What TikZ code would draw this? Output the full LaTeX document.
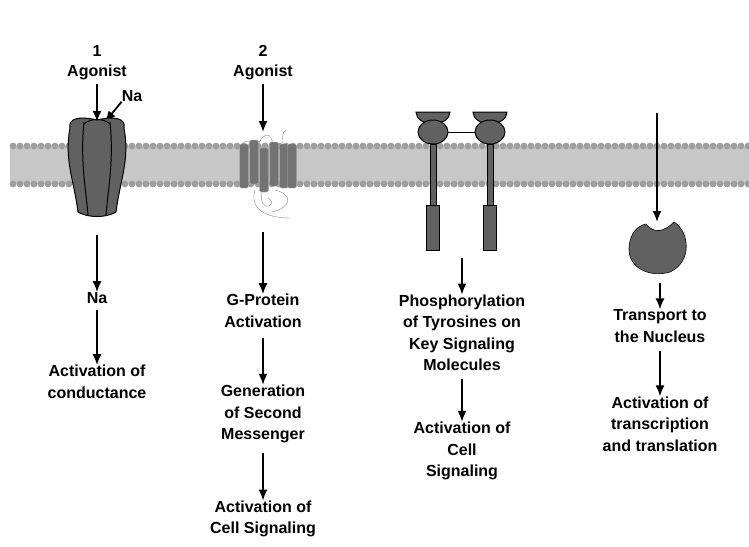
\documentclass[tikz,border=0pt]{standalone}
\usepackage{fontspec}
\setmainfont{Liberation Sans}
\begin{document}
\begin{tikzpicture}[x=1pt,y=-1pt,
  lbl/.style={font=\fontsize{16}{21.5}\selectfont\bfseries,align=center,inner sep=0pt},
  arr/.style={line width=1.8pt,-{Latex[length=11pt,width=9pt]}},
  prot/.style={fill=black!62,draw=black,line width=1pt}]
\usetikzlibrary{arrows.meta}
\useasboundingbox (0,0) rectangle (749,546);
% membrane
\fill[black!22] (10,146) rectangle (749,184);
\foreach \i in {0,...,105}{
  \fill[black!38] (13+7*\i,146) circle (3.4);
  \fill[black!38] (13+7*\i,184) circle (3.4);}
% column 1
\node[lbl] (n1) at (97,51) {1};
\node[lbl] (ag1) at (97,72) {Agonist};
\coordinate (c1top) at (97,122);
\draw[arr] (ag1.south)++(0,4) -- (c1top);
\node[lbl] (na1) at (132,96) {Na};
\coordinate (naend) at (105,122);
\draw[arr] (na1.south west) -- (naend);
\path[prot] (70,128) .. controls (68,118) and (80,116) .. (97,120)
  .. controls (114,116) and (126,118) .. (124,128)
  .. controls (130,160) and (120,180) .. (116,212)
  .. controls (106,218) and (88,218) .. (78,212)
  .. controls (74,180) and (64,160) .. (70,128) -- cycle;
\draw[line width=1pt] (84,122) .. controls (80,160) and (86,190) .. (88,215);
\draw[line width=1pt] (110,122) .. controls (114,160) and (108,190) .. (106,215);
\draw[line width=1pt] (84,124) .. controls (90,118) and (104,118) .. (110,124);
\node[lbl] (na2) at (97,298) {Na};
\coordinate (c1b) at (97,235);
\draw[arr] (c1b) -- (na2.north);
\node[lbl] (act1) at (97,382) {Activation of\\conductance};
\draw[arr] (na2.south)++(0,6) -- (act1.north);
% column 2
\node[lbl] (n2) at (263,51) {2};
\node[lbl] (ag2) at (263,72) {Agonist};
\coordinate (g2top) at (263,132);
\draw[arr] (ag2.south)++(0,4) -- (g2top);
\draw[black!45,thin] (245,160) .. controls (235,140) and (250,135) .. (255,150)
  (258,145) .. controls (265,128) and (275,135) .. (272,150)
  (282,150) .. controls (282,140) and (282,132) .. (286,130);
\foreach \x/\y in {244/144,254/140,264/148,274/142,284/144,292/144}
  \draw[fill=black!55,draw=black!30,rounded corners=2pt] (\x-4.5,\y) rectangle (\x+4.5,\y+44);
\draw[black!45,thin] (262,192) .. controls (258,215) and (280,205) .. (268,198)
  (255,190) .. controls (250,205) and (260,218) .. (290,218)
  (275,190) .. controls (295,195) and (290,208) .. (272,212);
\node[lbl] (gp) at (263,311) {G-Protein\\Activation};
\coordinate (c2b) at (263,232);
\draw[arr] (c2b) -- (gp.north);
\node[lbl] (gen) at (263,414) {Generation\\of Second\\Messenger};
\draw[arr] (gp.south)++(0,10) -- (gen.north);
\node[lbl] (act2) at (263,519) {Activation of\\Cell Signaling};
\draw[arr] (gen.south)++(0,10) -- (act2.north);
% column 3
\foreach \x in {433,490}{
  \path[prot] (\x-17,112) arc (180:0:17 and 12) -- cycle;
  \draw[prot] (\x,132) ellipse (15 and 12);
  \draw[prot] (\x-3,144) rectangle (\x+3,205);
  \draw[prot] (\x-6.5,205) rectangle (\x+6.5,250);
}
\draw[line width=1pt] (448,132) -- (475,132);
\node[lbl] (ph) at (462,333) {Phosphorylation\\of Tyrosines on\\Key Signaling\\Molecules};
\coordinate (c3b) at (462,258);
\draw[arr] (c3b) -- (ph.north);
\node[lbl] (act3) at (462,451) {Activation of\\Cell\\Signaling};
\draw[arr] (ph.south)++(0,8) -- (act3.north);
% column 4
\coordinate (c4t) at (657,113);
\coordinate (c4p) at (657,222);
\draw[arr] (c4t) -- (c4p);
\path[prot,line width=0.6pt] (646,224) .. controls (654,234) and (664,232) .. (674,222)
  .. controls (690,232) and (692,262) .. (670,272)
  .. controls (650,278) and (628,268) .. (629,248)
  .. controls (630,232) and (638,226) .. (646,224) -- cycle;
\node[lbl] (tr) at (660,326) {Transport to\\the Nucleus};
\coordinate (c4b) at (660,283);
\draw[arr] (c4b) -- (tr.north);
\node[lbl] (act4) at (660,424) {Activation of\\transcription\\and translation};
\draw[arr] (tr.south)++(0,8) -- (act4.north);
\end{tikzpicture}
\end{document}
